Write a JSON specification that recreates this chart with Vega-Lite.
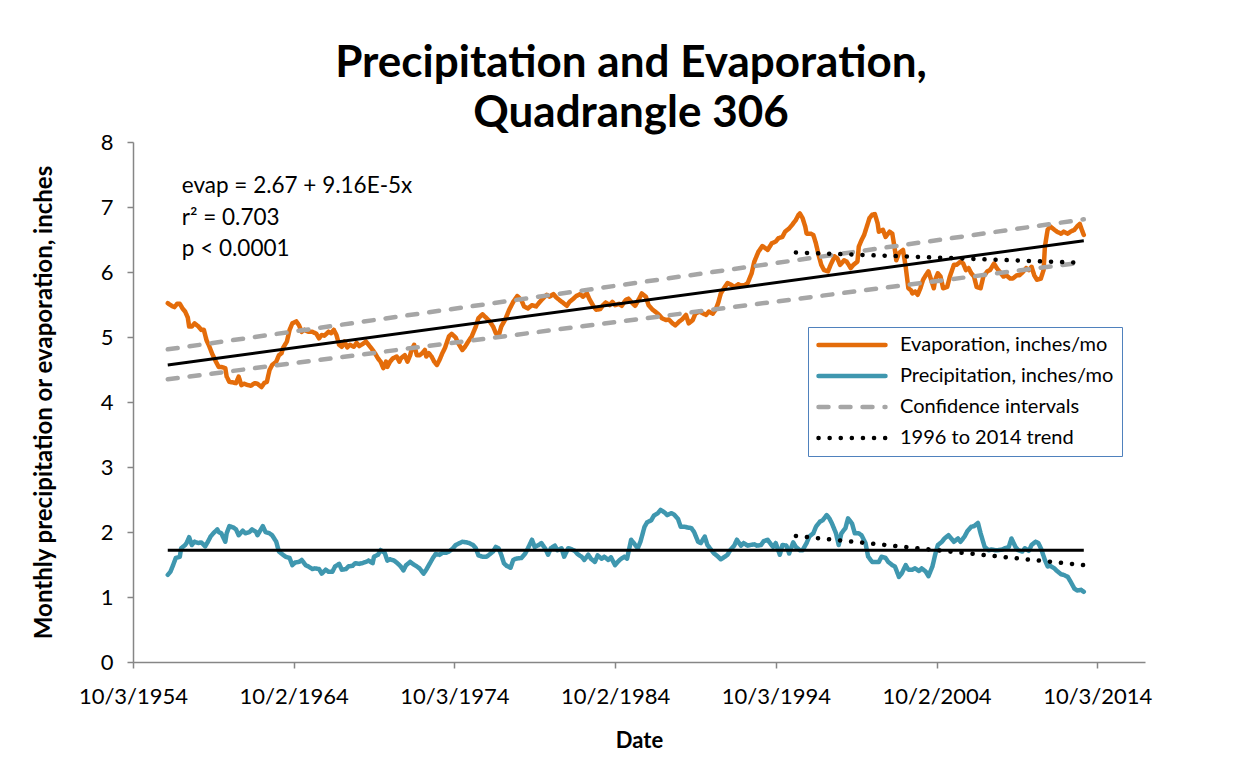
{
 "$schema": "https://vega.github.io/schema/vega-lite/v6.json",
 "width": 1012,
 "height": 520,
 "autosize": {"type": "none"},
 "padding": {"left": 133, "top": 142, "right": 108, "bottom": 97},
 "background": "white",
 "config": {"view": {"stroke": null}, "font": "Lato"},
 "title": {"text": ["Precipitation and Evaporation,", "Quadrangle 306"], "fontSize": 44, "font": "Lato", "fontWeight": "bold", "color": "black", "lineHeight": 50, "offset": -5, "dx": -8, "anchor": "middle"},
 "datasets": {
  "series": [
{"series":"Evaporation, inches/mo","date":"1956-12","value":5.52},
{"series":"Evaporation, inches/mo","date":"1957-03","value":5.48},
{"series":"Evaporation, inches/mo","date":"1957-05","value":5.46},
{"series":"Evaporation, inches/mo","date":"1957-07","value":5.51},
{"series":"Evaporation, inches/mo","date":"1957-09","value":5.51},
{"series":"Evaporation, inches/mo","date":"1957-11","value":5.44},
{"series":"Evaporation, inches/mo","date":"1958-01","value":5.39},
{"series":"Evaporation, inches/mo","date":"1958-03","value":5.30},
{"series":"Evaporation, inches/mo","date":"1958-04","value":5.16},
{"series":"Evaporation, inches/mo","date":"1958-06","value":5.16},
{"series":"Evaporation, inches/mo","date":"1958-08","value":5.21},
{"series":"Evaporation, inches/mo","date":"1958-11","value":5.16},
{"series":"Evaporation, inches/mo","date":"1959-01","value":5.11},
{"series":"Evaporation, inches/mo","date":"1959-03","value":5.11},
{"series":"Evaporation, inches/mo","date":"1959-05","value":4.95},
{"series":"Evaporation, inches/mo","date":"1959-07","value":4.86},
{"series":"Evaporation, inches/mo","date":"1959-09","value":4.75},
{"series":"Evaporation, inches/mo","date":"1959-12","value":4.62},
{"series":"Evaporation, inches/mo","date":"1960-02","value":4.54},
{"series":"Evaporation, inches/mo","date":"1960-04","value":4.54},
{"series":"Evaporation, inches/mo","date":"1960-07","value":4.52},
{"series":"Evaporation, inches/mo","date":"1960-08","value":4.39},
{"series":"Evaporation, inches/mo","date":"1960-10","value":4.31},
{"series":"Evaporation, inches/mo","date":"1961-01","value":4.30},
{"series":"Evaporation, inches/mo","date":"1961-03","value":4.29},
{"series":"Evaporation, inches/mo","date":"1961-05","value":4.39},
{"series":"Evaporation, inches/mo","date":"1961-07","value":4.26},
{"series":"Evaporation, inches/mo","date":"1961-09","value":4.28},
{"series":"Evaporation, inches/mo","date":"1961-12","value":4.26},
{"series":"Evaporation, inches/mo","date":"1962-02","value":4.25},
{"series":"Evaporation, inches/mo","date":"1962-05","value":4.29},
{"series":"Evaporation, inches/mo","date":"1962-07","value":4.28},
{"series":"Evaporation, inches/mo","date":"1962-10","value":4.23},
{"series":"Evaporation, inches/mo","date":"1962-12","value":4.29},
{"series":"Evaporation, inches/mo","date":"1963-02","value":4.31},
{"series":"Evaporation, inches/mo","date":"1963-04","value":4.49},
{"series":"Evaporation, inches/mo","date":"1963-06","value":4.57},
{"series":"Evaporation, inches/mo","date":"1963-09","value":4.62},
{"series":"Evaporation, inches/mo","date":"1963-11","value":4.72},
{"series":"Evaporation, inches/mo","date":"1964-01","value":4.75},
{"series":"Evaporation, inches/mo","date":"1964-02","value":4.83},
{"series":"Evaporation, inches/mo","date":"1964-05","value":4.93},
{"series":"Evaporation, inches/mo","date":"1964-07","value":5.11},
{"series":"Evaporation, inches/mo","date":"1964-09","value":5.21},
{"series":"Evaporation, inches/mo","date":"1964-12","value":5.24},
{"series":"Evaporation, inches/mo","date":"1965-02","value":5.18},
{"series":"Evaporation, inches/mo","date":"1965-04","value":5.08},
{"series":"Evaporation, inches/mo","date":"1965-06","value":5.11},
{"series":"Evaporation, inches/mo","date":"1965-09","value":5.08},
{"series":"Evaporation, inches/mo","date":"1965-12","value":5.08},
{"series":"Evaporation, inches/mo","date":"1966-03","value":5.05},
{"series":"Evaporation, inches/mo","date":"1966-05","value":4.98},
{"series":"Evaporation, inches/mo","date":"1966-07","value":5.03},
{"series":"Evaporation, inches/mo","date":"1966-09","value":5.02},
{"series":"Evaporation, inches/mo","date":"1966-12","value":5.08},
{"series":"Evaporation, inches/mo","date":"1967-02","value":5.06},
{"series":"Evaporation, inches/mo","date":"1967-04","value":5.11},
{"series":"Evaporation, inches/mo","date":"1967-06","value":5.03},
{"series":"Evaporation, inches/mo","date":"1967-08","value":4.88},
{"series":"Evaporation, inches/mo","date":"1967-10","value":4.85},
{"series":"Evaporation, inches/mo","date":"1967-12","value":4.93},
{"series":"Evaporation, inches/mo","date":"1968-02","value":4.84},
{"series":"Evaporation, inches/mo","date":"1968-04","value":4.88},
{"series":"Evaporation, inches/mo","date":"1968-07","value":4.85},
{"series":"Evaporation, inches/mo","date":"1968-09","value":4.91},
{"series":"Evaporation, inches/mo","date":"1968-11","value":4.86},
{"series":"Evaporation, inches/mo","date":"1969-02","value":4.90},
{"series":"Evaporation, inches/mo","date":"1969-04","value":4.93},
{"series":"Evaporation, inches/mo","date":"1969-06","value":4.88},
{"series":"Evaporation, inches/mo","date":"1969-09","value":4.80},
{"series":"Evaporation, inches/mo","date":"1969-11","value":4.74},
{"series":"Evaporation, inches/mo","date":"1970-01","value":4.67},
{"series":"Evaporation, inches/mo","date":"1970-03","value":4.62},
{"series":"Evaporation, inches/mo","date":"1970-05","value":4.52},
{"series":"Evaporation, inches/mo","date":"1970-07","value":4.62},
{"series":"Evaporation, inches/mo","date":"1970-08","value":4.54},
{"series":"Evaporation, inches/mo","date":"1970-10","value":4.62},
{"series":"Evaporation, inches/mo","date":"1970-12","value":4.67},
{"series":"Evaporation, inches/mo","date":"1971-03","value":4.70},
{"series":"Evaporation, inches/mo","date":"1971-05","value":4.62},
{"series":"Evaporation, inches/mo","date":"1971-06","value":4.67},
{"series":"Evaporation, inches/mo","date":"1971-09","value":4.72},
{"series":"Evaporation, inches/mo","date":"1971-11","value":4.62},
{"series":"Evaporation, inches/mo","date":"1972-01","value":4.72},
{"series":"Evaporation, inches/mo","date":"1972-02","value":4.80},
{"series":"Evaporation, inches/mo","date":"1972-04","value":4.88},
{"series":"Evaporation, inches/mo","date":"1972-06","value":4.72},
{"series":"Evaporation, inches/mo","date":"1972-08","value":4.72},
{"series":"Evaporation, inches/mo","date":"1972-10","value":4.75},
{"series":"Evaporation, inches/mo","date":"1972-12","value":4.80},
{"series":"Evaporation, inches/mo","date":"1973-01","value":4.70},
{"series":"Evaporation, inches/mo","date":"1973-03","value":4.75},
{"series":"Evaporation, inches/mo","date":"1973-05","value":4.70},
{"series":"Evaporation, inches/mo","date":"1973-07","value":4.62},
{"series":"Evaporation, inches/mo","date":"1973-09","value":4.57},
{"series":"Evaporation, inches/mo","date":"1973-11","value":4.65},
{"series":"Evaporation, inches/mo","date":"1974-01","value":4.75},
{"series":"Evaporation, inches/mo","date":"1974-03","value":4.83},
{"series":"Evaporation, inches/mo","date":"1974-05","value":4.95},
{"series":"Evaporation, inches/mo","date":"1974-06","value":5.01},
{"series":"Evaporation, inches/mo","date":"1974-08","value":5.05},
{"series":"Evaporation, inches/mo","date":"1974-11","value":4.99},
{"series":"Evaporation, inches/mo","date":"1975-01","value":4.90},
{"series":"Evaporation, inches/mo","date":"1975-04","value":4.80},
{"series":"Evaporation, inches/mo","date":"1975-06","value":4.85},
{"series":"Evaporation, inches/mo","date":"1975-09","value":4.95},
{"series":"Evaporation, inches/mo","date":"1975-11","value":5.01},
{"series":"Evaporation, inches/mo","date":"1976-02","value":5.16},
{"series":"Evaporation, inches/mo","date":"1976-04","value":5.29},
{"series":"Evaporation, inches/mo","date":"1976-07","value":5.35},
{"series":"Evaporation, inches/mo","date":"1976-09","value":5.31},
{"series":"Evaporation, inches/mo","date":"1976-12","value":5.25},
{"series":"Evaporation, inches/mo","date":"1977-03","value":5.16},
{"series":"Evaporation, inches/mo","date":"1977-05","value":5.06},
{"series":"Evaporation, inches/mo","date":"1977-07","value":5.01},
{"series":"Evaporation, inches/mo","date":"1977-09","value":5.16},
{"series":"Evaporation, inches/mo","date":"1977-12","value":5.27},
{"series":"Evaporation, inches/mo","date":"1978-03","value":5.42},
{"series":"Evaporation, inches/mo","date":"1978-06","value":5.54},
{"series":"Evaporation, inches/mo","date":"1978-09","value":5.63},
{"series":"Evaporation, inches/mo","date":"1978-12","value":5.57},
{"series":"Evaporation, inches/mo","date":"1979-02","value":5.47},
{"series":"Evaporation, inches/mo","date":"1979-05","value":5.44},
{"series":"Evaporation, inches/mo","date":"1979-08","value":5.49},
{"series":"Evaporation, inches/mo","date":"1979-11","value":5.47},
{"series":"Evaporation, inches/mo","date":"1980-01","value":5.52},
{"series":"Evaporation, inches/mo","date":"1980-04","value":5.59},
{"series":"Evaporation, inches/mo","date":"1980-07","value":5.65},
{"series":"Evaporation, inches/mo","date":"1980-09","value":5.62},
{"series":"Evaporation, inches/mo","date":"1980-12","value":5.66},
{"series":"Evaporation, inches/mo","date":"1981-02","value":5.61},
{"series":"Evaporation, inches/mo","date":"1981-05","value":5.56},
{"series":"Evaporation, inches/mo","date":"1981-07","value":5.53},
{"series":"Evaporation, inches/mo","date":"1981-10","value":5.48},
{"series":"Evaporation, inches/mo","date":"1981-12","value":5.54},
{"series":"Evaporation, inches/mo","date":"1982-03","value":5.59},
{"series":"Evaporation, inches/mo","date":"1982-05","value":5.63},
{"series":"Evaporation, inches/mo","date":"1982-08","value":5.66},
{"series":"Evaporation, inches/mo","date":"1982-10","value":5.62},
{"series":"Evaporation, inches/mo","date":"1983-01","value":5.67},
{"series":"Evaporation, inches/mo","date":"1983-03","value":5.58},
{"series":"Evaporation, inches/mo","date":"1983-06","value":5.47},
{"series":"Evaporation, inches/mo","date":"1983-08","value":5.42},
{"series":"Evaporation, inches/mo","date":"1983-11","value":5.43},
{"series":"Evaporation, inches/mo","date":"1984-01","value":5.49},
{"series":"Evaporation, inches/mo","date":"1984-03","value":5.53},
{"series":"Evaporation, inches/mo","date":"1984-06","value":5.49},
{"series":"Evaporation, inches/mo","date":"1984-08","value":5.54},
{"series":"Evaporation, inches/mo","date":"1984-10","value":5.49},
{"series":"Evaporation, inches/mo","date":"1985-01","value":5.51},
{"series":"Evaporation, inches/mo","date":"1985-03","value":5.48},
{"series":"Evaporation, inches/mo","date":"1985-06","value":5.57},
{"series":"Evaporation, inches/mo","date":"1985-08","value":5.59},
{"series":"Evaporation, inches/mo","date":"1985-11","value":5.52},
{"series":"Evaporation, inches/mo","date":"1986-01","value":5.48},
{"series":"Evaporation, inches/mo","date":"1986-04","value":5.59},
{"series":"Evaporation, inches/mo","date":"1986-06","value":5.67},
{"series":"Evaporation, inches/mo","date":"1986-09","value":5.62},
{"series":"Evaporation, inches/mo","date":"1986-11","value":5.49},
{"series":"Evaporation, inches/mo","date":"1987-02","value":5.42},
{"series":"Evaporation, inches/mo","date":"1987-04","value":5.39},
{"series":"Evaporation, inches/mo","date":"1987-07","value":5.34},
{"series":"Evaporation, inches/mo","date":"1987-09","value":5.29},
{"series":"Evaporation, inches/mo","date":"1987-12","value":5.26},
{"series":"Evaporation, inches/mo","date":"1988-02","value":5.27},
{"series":"Evaporation, inches/mo","date":"1988-05","value":5.21},
{"series":"Evaporation, inches/mo","date":"1988-07","value":5.18},
{"series":"Evaporation, inches/mo","date":"1988-10","value":5.24},
{"series":"Evaporation, inches/mo","date":"1988-12","value":5.27},
{"series":"Evaporation, inches/mo","date":"1989-03","value":5.34},
{"series":"Evaporation, inches/mo","date":"1989-05","value":5.21},
{"series":"Evaporation, inches/mo","date":"1989-08","value":5.26},
{"series":"Evaporation, inches/mo","date":"1989-10","value":5.36},
{"series":"Evaporation, inches/mo","date":"1990-01","value":5.39},
{"series":"Evaporation, inches/mo","date":"1990-03","value":5.37},
{"series":"Evaporation, inches/mo","date":"1990-06","value":5.34},
{"series":"Evaporation, inches/mo","date":"1990-08","value":5.39},
{"series":"Evaporation, inches/mo","date":"1990-11","value":5.36},
{"series":"Evaporation, inches/mo","date":"1991-01","value":5.42},
{"series":"Evaporation, inches/mo","date":"1991-03","value":5.52},
{"series":"Evaporation, inches/mo","date":"1991-05","value":5.67},
{"series":"Evaporation, inches/mo","date":"1991-08","value":5.77},
{"series":"Evaporation, inches/mo","date":"1991-10","value":5.83},
{"series":"Evaporation, inches/mo","date":"1992-01","value":5.80},
{"series":"Evaporation, inches/mo","date":"1992-03","value":5.77},
{"series":"Evaporation, inches/mo","date":"1992-06","value":5.81},
{"series":"Evaporation, inches/mo","date":"1992-08","value":5.79},
{"series":"Evaporation, inches/mo","date":"1992-11","value":5.80},
{"series":"Evaporation, inches/mo","date":"1993-01","value":5.83},
{"series":"Evaporation, inches/mo","date":"1993-04","value":5.98},
{"series":"Evaporation, inches/mo","date":"1993-06","value":6.16},
{"series":"Evaporation, inches/mo","date":"1993-09","value":6.31},
{"series":"Evaporation, inches/mo","date":"1993-12","value":6.40},
{"series":"Evaporation, inches/mo","date":"1994-04","value":6.34},
{"series":"Evaporation, inches/mo","date":"1994-07","value":6.44},
{"series":"Evaporation, inches/mo","date":"1994-10","value":6.47},
{"series":"Evaporation, inches/mo","date":"1994-12","value":6.52},
{"series":"Evaporation, inches/mo","date":"1995-03","value":6.54},
{"series":"Evaporation, inches/mo","date":"1995-05","value":6.62},
{"series":"Evaporation, inches/mo","date":"1995-08","value":6.67},
{"series":"Evaporation, inches/mo","date":"1995-10","value":6.72},
{"series":"Evaporation, inches/mo","date":"1996-01","value":6.80},
{"series":"Evaporation, inches/mo","date":"1996-03","value":6.88},
{"series":"Evaporation, inches/mo","date":"1996-04","value":6.90},
{"series":"Evaporation, inches/mo","date":"1996-06","value":6.83},
{"series":"Evaporation, inches/mo","date":"1996-08","value":6.70},
{"series":"Evaporation, inches/mo","date":"1996-09","value":6.59},
{"series":"Evaporation, inches/mo","date":"1996-12","value":6.59},
{"series":"Evaporation, inches/mo","date":"1997-02","value":6.57},
{"series":"Evaporation, inches/mo","date":"1997-04","value":6.44},
{"series":"Evaporation, inches/mo","date":"1997-06","value":6.26},
{"series":"Evaporation, inches/mo","date":"1997-08","value":6.11},
{"series":"Evaporation, inches/mo","date":"1997-10","value":6.03},
{"series":"Evaporation, inches/mo","date":"1998-01","value":6.01},
{"series":"Evaporation, inches/mo","date":"1998-03","value":6.11},
{"series":"Evaporation, inches/mo","date":"1998-06","value":6.24},
{"series":"Evaporation, inches/mo","date":"1998-08","value":6.21},
{"series":"Evaporation, inches/mo","date":"1998-10","value":6.11},
{"series":"Evaporation, inches/mo","date":"1999-01","value":6.18},
{"series":"Evaporation, inches/mo","date":"1999-03","value":6.16},
{"series":"Evaporation, inches/mo","date":"1999-06","value":6.06},
{"series":"Evaporation, inches/mo","date":"1999-08","value":6.11},
{"series":"Evaporation, inches/mo","date":"1999-11","value":6.16},
{"series":"Evaporation, inches/mo","date":"1999-12","value":6.39},
{"series":"Evaporation, inches/mo","date":"2000-02","value":6.49},
{"series":"Evaporation, inches/mo","date":"2000-04","value":6.57},
{"series":"Evaporation, inches/mo","date":"2000-06","value":6.70},
{"series":"Evaporation, inches/mo","date":"2000-08","value":6.83},
{"series":"Evaporation, inches/mo","date":"2000-10","value":6.88},
{"series":"Evaporation, inches/mo","date":"2000-12","value":6.89},
{"series":"Evaporation, inches/mo","date":"2001-02","value":6.75},
{"series":"Evaporation, inches/mo","date":"2001-03","value":6.62},
{"series":"Evaporation, inches/mo","date":"2001-06","value":6.65},
{"series":"Evaporation, inches/mo","date":"2001-08","value":6.54},
{"series":"Evaporation, inches/mo","date":"2001-11","value":6.62},
{"series":"Evaporation, inches/mo","date":"2002-01","value":6.59},
{"series":"Evaporation, inches/mo","date":"2002-03","value":6.34},
{"series":"Evaporation, inches/mo","date":"2002-04","value":6.18},
{"series":"Evaporation, inches/mo","date":"2002-06","value":6.29},
{"series":"Evaporation, inches/mo","date":"2002-09","value":6.34},
{"series":"Evaporation, inches/mo","date":"2002-11","value":6.08},
{"series":"Evaporation, inches/mo","date":"2003-01","value":5.75},
{"series":"Evaporation, inches/mo","date":"2003-03","value":5.72},
{"series":"Evaporation, inches/mo","date":"2003-04","value":5.67},
{"series":"Evaporation, inches/mo","date":"2003-06","value":5.70},
{"series":"Evaporation, inches/mo","date":"2003-08","value":5.65},
{"series":"Evaporation, inches/mo","date":"2003-10","value":5.75},
{"series":"Evaporation, inches/mo","date":"2003-12","value":5.88},
{"series":"Evaporation, inches/mo","date":"2004-02","value":5.95},
{"series":"Evaporation, inches/mo","date":"2004-04","value":6.01},
{"series":"Evaporation, inches/mo","date":"2004-06","value":5.88},
{"series":"Evaporation, inches/mo","date":"2004-08","value":5.75},
{"series":"Evaporation, inches/mo","date":"2004-09","value":5.88},
{"series":"Evaporation, inches/mo","date":"2004-11","value":5.98},
{"series":"Evaporation, inches/mo","date":"2005-01","value":5.93},
{"series":"Evaporation, inches/mo","date":"2005-03","value":5.75},
{"series":"Evaporation, inches/mo","date":"2005-06","value":5.77},
{"series":"Evaporation, inches/mo","date":"2005-08","value":5.93},
{"series":"Evaporation, inches/mo","date":"2005-11","value":6.11},
{"series":"Evaporation, inches/mo","date":"2006-01","value":6.11},
{"series":"Evaporation, inches/mo","date":"2006-04","value":6.16},
{"series":"Evaporation, inches/mo","date":"2006-06","value":6.13},
{"series":"Evaporation, inches/mo","date":"2006-08","value":6.03},
{"series":"Evaporation, inches/mo","date":"2006-10","value":6.06},
{"series":"Evaporation, inches/mo","date":"2006-12","value":5.98},
{"series":"Evaporation, inches/mo","date":"2007-02","value":5.93},
{"series":"Evaporation, inches/mo","date":"2007-04","value":5.77},
{"series":"Evaporation, inches/mo","date":"2007-07","value":5.75},
{"series":"Evaporation, inches/mo","date":"2007-09","value":5.93},
{"series":"Evaporation, inches/mo","date":"2007-12","value":6.01},
{"series":"Evaporation, inches/mo","date":"2008-02","value":6.03},
{"series":"Evaporation, inches/mo","date":"2008-05","value":6.13},
{"series":"Evaporation, inches/mo","date":"2008-07","value":6.06},
{"series":"Evaporation, inches/mo","date":"2008-09","value":6.01},
{"series":"Evaporation, inches/mo","date":"2008-12","value":5.93},
{"series":"Evaporation, inches/mo","date":"2009-02","value":5.95},
{"series":"Evaporation, inches/mo","date":"2009-05","value":5.90},
{"series":"Evaporation, inches/mo","date":"2009-07","value":5.90},
{"series":"Evaporation, inches/mo","date":"2009-10","value":5.95},
{"series":"Evaporation, inches/mo","date":"2009-12","value":5.95},
{"series":"Evaporation, inches/mo","date":"2010-03","value":6.01},
{"series":"Evaporation, inches/mo","date":"2010-05","value":6.06},
{"series":"Evaporation, inches/mo","date":"2010-07","value":6.03},
{"series":"Evaporation, inches/mo","date":"2010-09","value":6.08},
{"series":"Evaporation, inches/mo","date":"2010-11","value":5.95},
{"series":"Evaporation, inches/mo","date":"2011-01","value":5.88},
{"series":"Evaporation, inches/mo","date":"2011-04","value":5.90},
{"series":"Evaporation, inches/mo","date":"2011-06","value":6.03},
{"series":"Evaporation, inches/mo","date":"2011-07","value":6.39},
{"series":"Evaporation, inches/mo","date":"2011-09","value":6.65},
{"series":"Evaporation, inches/mo","date":"2011-11","value":6.70},
{"series":"Evaporation, inches/mo","date":"2012-02","value":6.65},
{"series":"Evaporation, inches/mo","date":"2012-04","value":6.62},
{"series":"Evaporation, inches/mo","date":"2012-07","value":6.59},
{"series":"Evaporation, inches/mo","date":"2012-09","value":6.62},
{"series":"Evaporation, inches/mo","date":"2012-12","value":6.59},
{"series":"Evaporation, inches/mo","date":"2013-02","value":6.62},
{"series":"Evaporation, inches/mo","date":"2013-05","value":6.65},
{"series":"Evaporation, inches/mo","date":"2013-07","value":6.70},
{"series":"Evaporation, inches/mo","date":"2013-09","value":6.74},
{"series":"Evaporation, inches/mo","date":"2013-11","value":6.62},
{"series":"Evaporation, inches/mo","date":"2013-12","value":6.57},
{"series":"Precipitation, inches/mo","date":"1956-12","value":1.34},
{"series":"Precipitation, inches/mo","date":"1957-02","value":1.39},
{"series":"Precipitation, inches/mo","date":"1957-04","value":1.49},
{"series":"Precipitation, inches/mo","date":"1957-06","value":1.60},
{"series":"Precipitation, inches/mo","date":"1957-09","value":1.62},
{"series":"Precipitation, inches/mo","date":"1957-10","value":1.75},
{"series":"Precipitation, inches/mo","date":"1958-01","value":1.80},
{"series":"Precipitation, inches/mo","date":"1958-02","value":1.83},
{"series":"Precipitation, inches/mo","date":"1958-04","value":1.92},
{"series":"Precipitation, inches/mo","date":"1958-06","value":1.80},
{"series":"Precipitation, inches/mo","date":"1958-08","value":1.85},
{"series":"Precipitation, inches/mo","date":"1958-11","value":1.83},
{"series":"Precipitation, inches/mo","date":"1959-01","value":1.84},
{"series":"Precipitation, inches/mo","date":"1959-04","value":1.78},
{"series":"Precipitation, inches/mo","date":"1959-06","value":1.85},
{"series":"Precipitation, inches/mo","date":"1959-08","value":1.93},
{"series":"Precipitation, inches/mo","date":"1959-10","value":1.98},
{"series":"Precipitation, inches/mo","date":"1960-01","value":2.04},
{"series":"Precipitation, inches/mo","date":"1960-02","value":2.00},
{"series":"Precipitation, inches/mo","date":"1960-04","value":1.98},
{"series":"Precipitation, inches/mo","date":"1960-07","value":1.85},
{"series":"Precipitation, inches/mo","date":"1960-08","value":1.98},
{"series":"Precipitation, inches/mo","date":"1960-10","value":2.09},
{"series":"Precipitation, inches/mo","date":"1961-01","value":2.07},
{"series":"Precipitation, inches/mo","date":"1961-03","value":2.04},
{"series":"Precipitation, inches/mo","date":"1961-05","value":1.95},
{"series":"Precipitation, inches/mo","date":"1961-08","value":2.02},
{"series":"Precipitation, inches/mo","date":"1961-10","value":1.98},
{"series":"Precipitation, inches/mo","date":"1962-01","value":2.00},
{"series":"Precipitation, inches/mo","date":"1962-03","value":2.04},
{"series":"Precipitation, inches/mo","date":"1962-06","value":2.00},
{"series":"Precipitation, inches/mo","date":"1962-07","value":1.95},
{"series":"Precipitation, inches/mo","date":"1962-09","value":2.02},
{"series":"Precipitation, inches/mo","date":"1962-11","value":2.09},
{"series":"Precipitation, inches/mo","date":"1963-01","value":2.00},
{"series":"Precipitation, inches/mo","date":"1963-04","value":1.98},
{"series":"Precipitation, inches/mo","date":"1963-06","value":1.95},
{"series":"Precipitation, inches/mo","date":"1963-09","value":1.85},
{"series":"Precipitation, inches/mo","date":"1963-11","value":1.70},
{"series":"Precipitation, inches/mo","date":"1964-02","value":1.65},
{"series":"Precipitation, inches/mo","date":"1964-04","value":1.62},
{"series":"Precipitation, inches/mo","date":"1964-07","value":1.60},
{"series":"Precipitation, inches/mo","date":"1964-09","value":1.49},
{"series":"Precipitation, inches/mo","date":"1964-11","value":1.53},
{"series":"Precipitation, inches/mo","date":"1965-02","value":1.54},
{"series":"Precipitation, inches/mo","date":"1965-04","value":1.57},
{"series":"Precipitation, inches/mo","date":"1965-07","value":1.49},
{"series":"Precipitation, inches/mo","date":"1965-09","value":1.47},
{"series":"Precipitation, inches/mo","date":"1965-12","value":1.43},
{"series":"Precipitation, inches/mo","date":"1966-02","value":1.44},
{"series":"Precipitation, inches/mo","date":"1966-05","value":1.43},
{"series":"Precipitation, inches/mo","date":"1966-07","value":1.36},
{"series":"Precipitation, inches/mo","date":"1966-10","value":1.42},
{"series":"Precipitation, inches/mo","date":"1966-12","value":1.39},
{"series":"Precipitation, inches/mo","date":"1967-03","value":1.39},
{"series":"Precipitation, inches/mo","date":"1967-05","value":1.47},
{"series":"Precipitation, inches/mo","date":"1967-08","value":1.51},
{"series":"Precipitation, inches/mo","date":"1967-10","value":1.42},
{"series":"Precipitation, inches/mo","date":"1968-01","value":1.43},
{"series":"Precipitation, inches/mo","date":"1968-03","value":1.47},
{"series":"Precipitation, inches/mo","date":"1968-06","value":1.48},
{"series":"Precipitation, inches/mo","date":"1968-08","value":1.52},
{"series":"Precipitation, inches/mo","date":"1968-11","value":1.51},
{"series":"Precipitation, inches/mo","date":"1969-01","value":1.52},
{"series":"Precipitation, inches/mo","date":"1969-04","value":1.54},
{"series":"Precipitation, inches/mo","date":"1969-06","value":1.56},
{"series":"Precipitation, inches/mo","date":"1969-09","value":1.52},
{"series":"Precipitation, inches/mo","date":"1969-10","value":1.62},
{"series":"Precipitation, inches/mo","date":"1970-01","value":1.65},
{"series":"Precipitation, inches/mo","date":"1970-03","value":1.72},
{"series":"Precipitation, inches/mo","date":"1970-06","value":1.68},
{"series":"Precipitation, inches/mo","date":"1970-08","value":1.56},
{"series":"Precipitation, inches/mo","date":"1970-10","value":1.58},
{"series":"Precipitation, inches/mo","date":"1971-01","value":1.56},
{"series":"Precipitation, inches/mo","date":"1971-03","value":1.53},
{"series":"Precipitation, inches/mo","date":"1971-06","value":1.47},
{"series":"Precipitation, inches/mo","date":"1971-08","value":1.41},
{"series":"Precipitation, inches/mo","date":"1971-10","value":1.49},
{"series":"Precipitation, inches/mo","date":"1972-01","value":1.54},
{"series":"Precipitation, inches/mo","date":"1972-03","value":1.51},
{"series":"Precipitation, inches/mo","date":"1972-06","value":1.47},
{"series":"Precipitation, inches/mo","date":"1972-08","value":1.44},
{"series":"Precipitation, inches/mo","date":"1972-11","value":1.36},
{"series":"Precipitation, inches/mo","date":"1973-01","value":1.42},
{"series":"Precipitation, inches/mo","date":"1973-03","value":1.49},
{"series":"Precipitation, inches/mo","date":"1973-06","value":1.60},
{"series":"Precipitation, inches/mo","date":"1973-08","value":1.66},
{"series":"Precipitation, inches/mo","date":"1973-11","value":1.65},
{"series":"Precipitation, inches/mo","date":"1974-01","value":1.68},
{"series":"Precipitation, inches/mo","date":"1974-04","value":1.68},
{"series":"Precipitation, inches/mo","date":"1974-06","value":1.70},
{"series":"Precipitation, inches/mo","date":"1974-09","value":1.75},
{"series":"Precipitation, inches/mo","date":"1974-11","value":1.80},
{"series":"Precipitation, inches/mo","date":"1975-02","value":1.83},
{"series":"Precipitation, inches/mo","date":"1975-04","value":1.85},
{"series":"Precipitation, inches/mo","date":"1975-07","value":1.84},
{"series":"Precipitation, inches/mo","date":"1975-09","value":1.83},
{"series":"Precipitation, inches/mo","date":"1975-12","value":1.80},
{"series":"Precipitation, inches/mo","date":"1976-02","value":1.75},
{"series":"Precipitation, inches/mo","date":"1976-04","value":1.64},
{"series":"Precipitation, inches/mo","date":"1976-07","value":1.62},
{"series":"Precipitation, inches/mo","date":"1976-10","value":1.62},
{"series":"Precipitation, inches/mo","date":"1976-12","value":1.65},
{"series":"Precipitation, inches/mo","date":"1977-03","value":1.70},
{"series":"Precipitation, inches/mo","date":"1977-05","value":1.77},
{"series":"Precipitation, inches/mo","date":"1977-07","value":1.75},
{"series":"Precipitation, inches/mo","date":"1977-09","value":1.65},
{"series":"Precipitation, inches/mo","date":"1977-11","value":1.52},
{"series":"Precipitation, inches/mo","date":"1978-01","value":1.48},
{"series":"Precipitation, inches/mo","date":"1978-04","value":1.45},
{"series":"Precipitation, inches/mo","date":"1978-06","value":1.57},
{"series":"Precipitation, inches/mo","date":"1978-08","value":1.59},
{"series":"Precipitation, inches/mo","date":"1978-12","value":1.60},
{"series":"Precipitation, inches/mo","date":"1979-03","value":1.67},
{"series":"Precipitation, inches/mo","date":"1979-05","value":1.75},
{"series":"Precipitation, inches/mo","date":"1979-08","value":1.88},
{"series":"Precipitation, inches/mo","date":"1979-10","value":1.77},
{"series":"Precipitation, inches/mo","date":"1980-01","value":1.80},
{"series":"Precipitation, inches/mo","date":"1980-03","value":1.83},
{"series":"Precipitation, inches/mo","date":"1980-06","value":1.74},
{"series":"Precipitation, inches/mo","date":"1980-08","value":1.65},
{"series":"Precipitation, inches/mo","date":"1980-10","value":1.75},
{"series":"Precipitation, inches/mo","date":"1981-01","value":1.79},
{"series":"Precipitation, inches/mo","date":"1981-03","value":1.72},
{"series":"Precipitation, inches/mo","date":"1981-06","value":1.75},
{"series":"Precipitation, inches/mo","date":"1981-08","value":1.62},
{"series":"Precipitation, inches/mo","date":"1981-11","value":1.75},
{"series":"Precipitation, inches/mo","date":"1982-01","value":1.74},
{"series":"Precipitation, inches/mo","date":"1982-04","value":1.71},
{"series":"Precipitation, inches/mo","date":"1982-06","value":1.66},
{"series":"Precipitation, inches/mo","date":"1982-09","value":1.62},
{"series":"Precipitation, inches/mo","date":"1982-11","value":1.57},
{"series":"Precipitation, inches/mo","date":"1983-02","value":1.65},
{"series":"Precipitation, inches/mo","date":"1983-04","value":1.59},
{"series":"Precipitation, inches/mo","date":"1983-07","value":1.54},
{"series":"Precipitation, inches/mo","date":"1983-09","value":1.64},
{"series":"Precipitation, inches/mo","date":"1983-12","value":1.59},
{"series":"Precipitation, inches/mo","date":"1984-02","value":1.62},
{"series":"Precipitation, inches/mo","date":"1984-05","value":1.57},
{"series":"Precipitation, inches/mo","date":"1984-07","value":1.61},
{"series":"Precipitation, inches/mo","date":"1984-10","value":1.49},
{"series":"Precipitation, inches/mo","date":"1984-12","value":1.54},
{"series":"Precipitation, inches/mo","date":"1985-02","value":1.58},
{"series":"Precipitation, inches/mo","date":"1985-05","value":1.62},
{"series":"Precipitation, inches/mo","date":"1985-07","value":1.59},
{"series":"Precipitation, inches/mo","date":"1985-10","value":1.88},
{"series":"Precipitation, inches/mo","date":"1985-12","value":1.83},
{"series":"Precipitation, inches/mo","date":"1986-03","value":1.75},
{"series":"Precipitation, inches/mo","date":"1986-05","value":1.85},
{"series":"Precipitation, inches/mo","date":"1986-08","value":2.08},
{"series":"Precipitation, inches/mo","date":"1986-10","value":2.15},
{"series":"Precipitation, inches/mo","date":"1987-01","value":2.18},
{"series":"Precipitation, inches/mo","date":"1987-03","value":2.25},
{"series":"Precipitation, inches/mo","date":"1987-06","value":2.29},
{"series":"Precipitation, inches/mo","date":"1987-08","value":2.34},
{"series":"Precipitation, inches/mo","date":"1987-11","value":2.30},
{"series":"Precipitation, inches/mo","date":"1988-01","value":2.26},
{"series":"Precipitation, inches/mo","date":"1988-04","value":2.29},
{"series":"Precipitation, inches/mo","date":"1988-06","value":2.27},
{"series":"Precipitation, inches/mo","date":"1988-09","value":2.20},
{"series":"Precipitation, inches/mo","date":"1988-11","value":2.08},
{"series":"Precipitation, inches/mo","date":"1989-02","value":2.08},
{"series":"Precipitation, inches/mo","date":"1989-04","value":2.07},
{"series":"Precipitation, inches/mo","date":"1989-07","value":2.06},
{"series":"Precipitation, inches/mo","date":"1989-09","value":2.00},
{"series":"Precipitation, inches/mo","date":"1989-12","value":1.85},
{"series":"Precipitation, inches/mo","date":"1990-02","value":1.83},
{"series":"Precipitation, inches/mo","date":"1990-05","value":1.93},
{"series":"Precipitation, inches/mo","date":"1990-07","value":1.80},
{"series":"Precipitation, inches/mo","date":"1990-10","value":1.72},
{"series":"Precipitation, inches/mo","date":"1990-12","value":1.67},
{"series":"Precipitation, inches/mo","date":"1991-03","value":1.62},
{"series":"Precipitation, inches/mo","date":"1991-05","value":1.58},
{"series":"Precipitation, inches/mo","date":"1991-08","value":1.62},
{"series":"Precipitation, inches/mo","date":"1991-10","value":1.65},
{"series":"Precipitation, inches/mo","date":"1991-12","value":1.72},
{"series":"Precipitation, inches/mo","date":"1992-03","value":1.79},
{"series":"Precipitation, inches/mo","date":"1992-05","value":1.88},
{"series":"Precipitation, inches/mo","date":"1992-08","value":1.79},
{"series":"Precipitation, inches/mo","date":"1992-10","value":1.83},
{"series":"Precipitation, inches/mo","date":"1993-01","value":1.79},
{"series":"Precipitation, inches/mo","date":"1993-03","value":1.80},
{"series":"Precipitation, inches/mo","date":"1993-06","value":1.81},
{"series":"Precipitation, inches/mo","date":"1993-08","value":1.79},
{"series":"Precipitation, inches/mo","date":"1993-11","value":1.80},
{"series":"Precipitation, inches/mo","date":"1994-01","value":1.86},
{"series":"Precipitation, inches/mo","date":"1994-04","value":1.88},
{"series":"Precipitation, inches/mo","date":"1994-05","value":1.85},
{"series":"Precipitation, inches/mo","date":"1994-08","value":1.77},
{"series":"Precipitation, inches/mo","date":"1994-10","value":1.83},
{"series":"Precipitation, inches/mo","date":"1995-01","value":1.65},
{"series":"Precipitation, inches/mo","date":"1995-03","value":1.80},
{"series":"Precipitation, inches/mo","date":"1995-06","value":1.79},
{"series":"Precipitation, inches/mo","date":"1995-08","value":1.67},
{"series":"Precipitation, inches/mo","date":"1995-11","value":1.84},
{"series":"Precipitation, inches/mo","date":"1996-01","value":1.77},
{"series":"Precipitation, inches/mo","date":"1996-04","value":1.72},
{"series":"Precipitation, inches/mo","date":"1996-06","value":1.72},
{"series":"Precipitation, inches/mo","date":"1996-09","value":1.83},
{"series":"Precipitation, inches/mo","date":"1996-11","value":1.93},
{"series":"Precipitation, inches/mo","date":"1997-02","value":1.98},
{"series":"Precipitation, inches/mo","date":"1997-04","value":2.08},
{"series":"Precipitation, inches/mo","date":"1997-07","value":2.16},
{"series":"Precipitation, inches/mo","date":"1997-09","value":2.18},
{"series":"Precipitation, inches/mo","date":"1997-12","value":2.26},
{"series":"Precipitation, inches/mo","date":"1998-02","value":2.21},
{"series":"Precipitation, inches/mo","date":"1998-04","value":2.13},
{"series":"Precipitation, inches/mo","date":"1998-07","value":1.98},
{"series":"Precipitation, inches/mo","date":"1998-09","value":1.80},
{"series":"Precipitation, inches/mo","date":"1998-11","value":1.98},
{"series":"Precipitation, inches/mo","date":"1999-02","value":2.06},
{"series":"Precipitation, inches/mo","date":"1999-04","value":2.21},
{"series":"Precipitation, inches/mo","date":"1999-07","value":2.13},
{"series":"Precipitation, inches/mo","date":"1999-09","value":1.98},
{"series":"Precipitation, inches/mo","date":"1999-12","value":1.98},
{"series":"Precipitation, inches/mo","date":"2000-02","value":1.95},
{"series":"Precipitation, inches/mo","date":"2000-05","value":1.83},
{"series":"Precipitation, inches/mo","date":"2000-07","value":1.62},
{"series":"Precipitation, inches/mo","date":"2000-10","value":1.54},
{"series":"Precipitation, inches/mo","date":"2000-12","value":1.54},
{"series":"Precipitation, inches/mo","date":"2001-03","value":1.54},
{"series":"Precipitation, inches/mo","date":"2001-05","value":1.62},
{"series":"Precipitation, inches/mo","date":"2001-08","value":1.60},
{"series":"Precipitation, inches/mo","date":"2001-10","value":1.54},
{"series":"Precipitation, inches/mo","date":"2002-01","value":1.49},
{"series":"Precipitation, inches/mo","date":"2002-03","value":1.47},
{"series":"Precipitation, inches/mo","date":"2002-06","value":1.31},
{"series":"Precipitation, inches/mo","date":"2002-08","value":1.36},
{"series":"Precipitation, inches/mo","date":"2002-11","value":1.49},
{"series":"Precipitation, inches/mo","date":"2003-01","value":1.42},
{"series":"Precipitation, inches/mo","date":"2003-04","value":1.42},
{"series":"Precipitation, inches/mo","date":"2003-06","value":1.44},
{"series":"Precipitation, inches/mo","date":"2003-09","value":1.40},
{"series":"Precipitation, inches/mo","date":"2003-11","value":1.44},
{"series":"Precipitation, inches/mo","date":"2004-02","value":1.39},
{"series":"Precipitation, inches/mo","date":"2004-04","value":1.32},
{"series":"Precipitation, inches/mo","date":"2004-07","value":1.47},
{"series":"Precipitation, inches/mo","date":"2004-09","value":1.65},
{"series":"Precipitation, inches/mo","date":"2004-11","value":1.80},
{"series":"Precipitation, inches/mo","date":"2005-02","value":1.85},
{"series":"Precipitation, inches/mo","date":"2005-04","value":1.90},
{"series":"Precipitation, inches/mo","date":"2005-07","value":1.95},
{"series":"Precipitation, inches/mo","date":"2005-09","value":1.90},
{"series":"Precipitation, inches/mo","date":"2005-11","value":1.85},
{"series":"Precipitation, inches/mo","date":"2006-02","value":1.90},
{"series":"Precipitation, inches/mo","date":"2006-04","value":1.85},
{"series":"Precipitation, inches/mo","date":"2006-07","value":1.93},
{"series":"Precipitation, inches/mo","date":"2006-09","value":2.01},
{"series":"Precipitation, inches/mo","date":"2006-12","value":2.08},
{"series":"Precipitation, inches/mo","date":"2007-02","value":2.09},
{"series":"Precipitation, inches/mo","date":"2007-05","value":2.14},
{"series":"Precipitation, inches/mo","date":"2007-07","value":1.98},
{"series":"Precipitation, inches/mo","date":"2007-10","value":1.77},
{"series":"Precipitation, inches/mo","date":"2008-01","value":1.72},
{"series":"Precipitation, inches/mo","date":"2008-03","value":1.73},
{"series":"Precipitation, inches/mo","date":"2008-06","value":1.72},
{"series":"Precipitation, inches/mo","date":"2008-08","value":1.72},
{"series":"Precipitation, inches/mo","date":"2008-11","value":1.73},
{"series":"Precipitation, inches/mo","date":"2009-01","value":1.75},
{"series":"Precipitation, inches/mo","date":"2009-04","value":1.77},
{"series":"Precipitation, inches/mo","date":"2009-06","value":1.90},
{"series":"Precipitation, inches/mo","date":"2009-09","value":1.77},
{"series":"Precipitation, inches/mo","date":"2009-11","value":1.72},
{"series":"Precipitation, inches/mo","date":"2010-02","value":1.70},
{"series":"Precipitation, inches/mo","date":"2010-04","value":1.75},
{"series":"Precipitation, inches/mo","date":"2010-07","value":1.71},
{"series":"Precipitation, inches/mo","date":"2010-09","value":1.80},
{"series":"Precipitation, inches/mo","date":"2010-12","value":1.85},
{"series":"Precipitation, inches/mo","date":"2011-02","value":1.83},
{"series":"Precipitation, inches/mo","date":"2011-04","value":1.75},
{"series":"Precipitation, inches/mo","date":"2011-07","value":1.57},
{"series":"Precipitation, inches/mo","date":"2011-09","value":1.47},
{"series":"Precipitation, inches/mo","date":"2011-11","value":1.48},
{"series":"Precipitation, inches/mo","date":"2012-02","value":1.44},
{"series":"Precipitation, inches/mo","date":"2012-04","value":1.40},
{"series":"Precipitation, inches/mo","date":"2012-07","value":1.35},
{"series":"Precipitation, inches/mo","date":"2012-09","value":1.34},
{"series":"Precipitation, inches/mo","date":"2012-12","value":1.31},
{"series":"Precipitation, inches/mo","date":"2013-02","value":1.24},
{"series":"Precipitation, inches/mo","date":"2013-05","value":1.13},
{"series":"Precipitation, inches/mo","date":"2013-07","value":1.10},
{"series":"Precipitation, inches/mo","date":"2013-10","value":1.11},
{"series":"Precipitation, inches/mo","date":"2013-12","value":1.08}
  ],
  "fits": [
{"series":"Linear fit","seg":"evap fit","date":"1956-12","value":4.57},
{"series":"Linear fit","seg":"evap fit","date":"2013-12","value":6.48},
{"series":"Linear fit","seg":"precip mean","date":"1956-12","value":1.72},
{"series":"Linear fit","seg":"precip mean","date":"2013-12","value":1.72},
{"series":"Confidence intervals","seg":"upper","date":"1956-12","value":4.81},
{"series":"Confidence intervals","seg":"upper","date":"2013-12","value":6.81},
{"series":"Confidence intervals","seg":"lower","date":"1956-12","value":4.35},
{"series":"Confidence intervals","seg":"lower","date":"2013-12","value":6.15},
{"series":"1996 to 2014 trend","seg":"evap trend","date":"1996-01","value":6.30},
{"series":"1996 to 2014 trend","seg":"evap trend","date":"2013-12","value":6.14},
{"series":"1996 to 2014 trend","seg":"precip trend","date":"1996-01","value":1.94},
{"series":"1996 to 2014 trend","seg":"precip trend","date":"2013-12","value":1.49}
  ],
  "notes": [
{"date":"1957-10-16","value":7.32,"label":"evap = 2.67 + 9.16E-5x"},
{"date":"1957-10-16","value":6.83,"label":"r² = 0.703"},
{"date":"1957-10-16","value":6.35,"label":"p < 0.0001"}
  ]
 },
 "encoding": {
  "x": {"field": "date", "type": "temporal",
   "scale": {"type": "utc", "domain": [{"year": 1954, "month": 10, "date": 3, "utc": true}, {"year": 2017, "month": 9, "date": 22, "utc": true}]},
   "axis": {"title": "Date", "grid": false,
    "values": [{"year": 1954, "month": 10, "date": 3, "utc": true}, {"year": 1964, "month": 10, "date": 2, "utc": true}, {"year": 1974, "month": 10, "date": 3, "utc": true}, {"year": 1984, "month": 10, "date": 2, "utc": true}, {"year": 1994, "month": 10, "date": 3, "utc": true}, {"year": 2004, "month": 10, "date": 2, "utc": true}, {"year": 2014, "month": 10, "date": 3, "utc": true}],
    "format": "%-m/%-d/%Y", "labelFont": "Lato", "labelFontSize": 22, "labelColor": "black", "labelPadding": 18, "labelFlush": false, "labelOverlap": false,
    "tickSize": 6, "tickColor": "#868686", "tickWidth": 1.5, "domainColor": "#868686", "domainWidth": 1.5,
    "titleFont": "Lato", "titleFontSize": 22, "titleFontWeight": "bold", "titleColor": "black", "titlePadding": 23}},
  "y": {"field": "value", "type": "quantitative",
   "scale": {"domain": [0, 8], "nice": false},
   "axis": {"title": "Monthly precipitation or evaporation, inches", "grid": false, "values": [0, 1, 2, 3, 4, 5, 6, 7, 8],
    "labelFont": "Lato", "labelFontSize": 22, "labelColor": "black", "labelPadding": 14,
    "tickSize": 6, "tickColor": "#868686", "tickWidth": 1.5, "domainColor": "#868686", "domainWidth": 1.5,
    "titleFont": "Lato", "titleFontSize": 24, "titleFontWeight": "bold", "titleColor": "black", "titlePadding": 44}}
 },
 "layer": [
  {"data": {"name": "series"},
   "mark": {"type": "line", "strokeWidth": 4.5, "strokeCap": "round", "strokeJoin": "round"},
   "encoding": {
    "color": {"field": "series", "type": "nominal",
     "scale": {"domain": ["Evaporation, inches/mo", "Precipitation, inches/mo", "Confidence intervals", "1996 to 2014 trend"], "range": ["#E46C0A", "#3F97AF", "#A6A6A6", "#000000"]},
     "legend": {"title": null, "orient": "none", "legendX": 675, "legendY": 185, "strokeColor": "#4F81BD", "fillColor": "white", "padding": 8, "symbolType": "stroke", "symbolSize": 4489, "symbolStrokeWidth": 4.5, "clipHeight": 20, "rowPadding": 11, "labelFont": "Lato", "labelFontSize": 20, "labelColor": "black", "labelOffset": 12, "labelLimit": 0, "encode": {"symbols": {"update": {"strokeCap": {"value": "round"}}}}}},
    "strokeDash": {"field": "series", "type": "nominal",
     "scale": {"domain": ["Evaporation, inches/mo", "Precipitation, inches/mo", "Confidence intervals", "1996 to 2014 trend"], "range": [[1, 0], [1, 0], [10, 12], [0.1, 11]]},
     "legend": {"title": null, "orient": "none", "legendX": 675, "legendY": 185, "strokeColor": "#4F81BD", "fillColor": "white", "padding": 8, "symbolType": "stroke", "symbolSize": 4489, "symbolStrokeWidth": 4.5, "clipHeight": 20, "rowPadding": 11, "labelFont": "Lato", "labelFontSize": 20, "labelColor": "black", "labelOffset": 12, "labelLimit": 0, "encode": {"symbols": {"update": {"strokeCap": {"value": "round"}}}}}}
   }},
  {"data": {"name": "fits"},
   "transform": [{"filter": "datum.series == 'Linear fit'"}],
   "mark": {"type": "line", "strokeWidth": 3, "color": "black"},
   "encoding": {"detail": {"field": "seg", "type": "nominal"}}},
  {"data": {"name": "fits"},
   "transform": [{"filter": "datum.series != 'Linear fit'"}],
   "mark": {"type": "line", "strokeWidth": 4.5, "strokeCap": "round"},
   "encoding": {
    "detail": {"field": "seg", "type": "nominal"},
    "color": {"field": "series", "type": "nominal"},
    "strokeDash": {"field": "series", "type": "nominal"}
   }},
  {"data": {"name": "notes"},
   "mark": {"type": "text", "align": "left", "baseline": "middle", "font": "Lato", "fontSize": 22.5, "color": "black"},
   "encoding": {"text": {"field": "label"}}}
 ]
}
